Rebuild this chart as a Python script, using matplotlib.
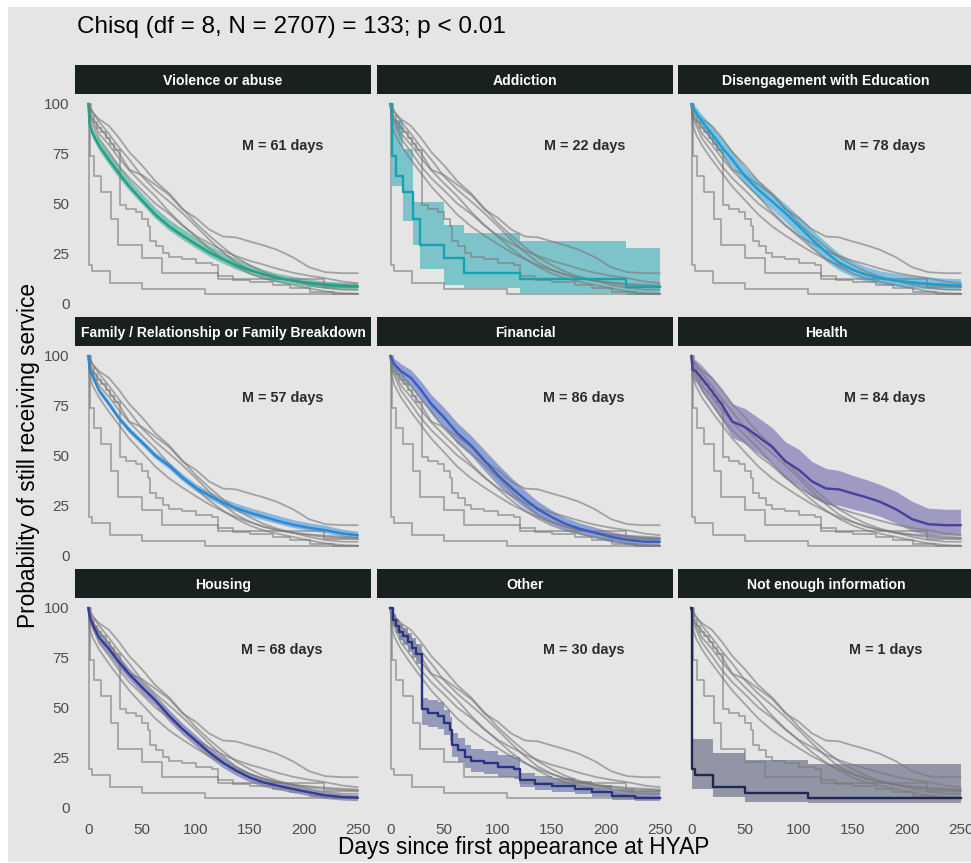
import matplotlib
matplotlib.use("Agg")
import matplotlib.pyplot as plt
from matplotlib.patches import Rectangle

plt.rcParams['font.family'] = ['Liberation Sans', 'DejaVu Sans']

# ---------------- data ----------------
title_text = "Chisq (df = 8, N = 2707) = 133; p < 0.01"
x_label = "Days since first appearance at HYAP"
y_label = "Probability of still receiving service"

groups = ["Violence or abuse", "Addiction", "Disengagement with Education",
          "Family / Relationship or Family Breakdown", "Financial", "Health",
          "Housing", "Other", "Not enough information"]
medians = [61, 22, 78, 57, 86, 84, 68, 30, 1]
x_ticks = [0, 50, 100, 150, 200, 250]
y_ticks = [0, 25, 50, 75, 100]

# large groups: estimates read on a common day grid
smooth_days = [0, 1, 4, 10, 19, 28, 38, 50, 62, 75, 87, 100, 112, 125, 137,
               150, 162, 175, 190, 205, 220, 236, 250]

violence_surv = [100, 90, 85, 79, 72, 65.5, 58.5, 51.5, 44.5, 38.5, 34, 29.5, 25.5,
                 22, 19, 16.5, 14.5, 12.7, 11.2, 10, 9.1, 8.6, 8.3]
violence_hi = [100, 92, 87.5, 82, 75.5, 69, 62, 55, 48, 42, 37.5, 33, 29, 25.5, 22.5,
               19.5, 17, 15, 13.5, 12, 11, 10.5, 10.3]
violence_lo = [100, 88, 82.5, 76.5, 69.5, 63, 56.5, 49.5, 42.5, 36.5, 32, 27.5, 23.5,
               20, 17, 14.5, 12.5, 10.8, 9.5, 8.3, 7.4, 6.9, 6.5]

disengage_surv = [100, 98.5, 96, 91, 85, 78.5, 72, 63.5, 57, 51, 45.3, 38.5, 32, 25.5,
                  20.3, 16.7, 14.2, 12.5, 11.2, 10.4, 9.7, 9.2, 8.8]
disengage_hi = [100, 100, 98.5, 94.5, 89, 83, 76.5, 68, 61.5, 55.5, 50, 43.5, 37, 30.5,
                25, 21, 18.3, 16.3, 14.8, 13.8, 13, 12.5, 12.2]
disengage_lo = [100, 97, 93.5, 87.5, 81, 74.5, 68, 59.5, 53, 47, 41, 34, 27.5, 21, 16.5,
                13.2, 11, 9.6, 8.5, 7.8, 7.2, 6.8, 6.5]

family_surv = [100, 94, 89.5, 82.5, 76, 69, 62.7, 56.5, 50, 44.8, 39, 33.7, 30, 26.3,
               23.6, 21.2, 19.4, 17.3, 15.2, 13.7, 12.5, 10.8, 10]
family_hi = [100, 95.5, 91, 84, 77.5, 70.5, 64.2, 58, 51.7, 46.5, 41, 35.7, 32, 28.5,
             26, 23.8, 22, 20, 17.8, 16.2, 14.9, 13, 12]
family_lo = [100, 92.5, 88, 81, 74.5, 67.5, 61.2, 55, 48.5, 43.2, 37.3, 32, 28.3, 24.6,
             22, 19.6, 17.8, 15.8, 13.8, 12.3, 11.2, 9.5, 8.7]

financial_surv = [100, 98.5, 95.5, 92.3, 89, 83.2, 75.8, 69, 61.3, 55, 47.7, 40, 34, 28,
                  23, 19, 15.8, 13.3, 11.2, 9.1, 7.6, 6.7, 6.7]
financial_hi = [100, 100, 98.5, 96, 93, 87.5, 80.5, 74, 66.5, 60, 53, 45.5, 39, 32.5,
                27, 22.5, 19, 16.3, 14, 11.8, 10.2, 9.2, 9]
financial_lo = [100, 96.5, 92.5, 88.5, 84.5, 78.5, 71, 64, 56, 50, 42.5, 35, 29, 23.5,
                19, 15.5, 12.8, 10.5, 8.6, 6.6, 5.2, 4.4, 4.3]

health_surv = [100, 93, 92.5, 88.5, 82.3, 75.7, 67, 64.2, 59.5, 54.3, 47.2, 42.7, 37,
               33.4, 33, 30.9, 29.1, 26.8, 23, 18, 15.5, 15, 15]
health_hi = [100, 98, 98, 95, 89.5, 83, 76, 73.5, 69, 64, 57, 53, 47, 43.5, 42.5, 40,
             38, 35.5, 32, 27, 23.5, 23, 23]
health_lo = [100, 88, 87, 82, 75, 68, 59, 56, 51, 46, 39, 34.5, 29, 25.5, 25, 23, 21.5,
             19.5, 16, 12, 10, 10, 10]

housing_surv = [100, 96, 91.5, 85, 79.5, 73, 66.7, 60, 53.7, 45.8, 39.4, 33.2, 27.5,
                22.3, 18.3, 14.8, 12.5, 10.8, 9.1, 7.4, 5.9, 5, 4.7]
housing_hi = [100, 98, 94, 88, 82.5, 76, 69.5, 63, 56.5, 48.8, 42.3, 36, 30.2, 25,
              20.8, 17.2, 14.8, 12.9, 11.1, 9.2, 7.6, 6.6, 6.3]
housing_lo = [100, 94, 89, 82, 76.5, 70, 64, 57, 51, 43, 36.6, 30.5, 25, 19.8, 16,
              12.6, 10.4, 8.8, 7.2, 5.7, 4.3, 3.5, 3.2]

# small groups: step change points
addiction_days = [0, 1, 5, 12, 21, 27, 50, 68, 120, 219, 250]
addiction_surv = [100, 74, 64, 56, 42, 29, 22.5, 15, 12, 8.3, 8.3]
addiction_hi = [100, 92, 92, 77.5, 51, 51, 39, 35, 31, 27.5, 27.5]
addiction_lo = [100, 59, 59, 41, 29, 17, 9, 7.5, 5, 4, 4]

other_days = [0, 2, 5, 8, 12, 16, 20, 24, 29, 35, 44, 50, 55, 57, 63, 69, 75, 87, 100,
              115, 120, 134, 150, 171, 187, 206, 227, 250]
other_surv = [100, 94, 91, 88, 86, 83, 80, 77, 49, 47, 45.5, 42, 38.5, 31, 28.5, 25,
              23, 22, 20, 19, 13.4, 11.7, 10.4, 9.2, 7.5, 5.4, 4.5, 4.5]
other_hi = [100, 97, 94.5, 92, 90, 87.5, 85, 82, 55, 54, 53, 48.5, 45, 37, 34.5, 31,
            29, 28, 26, 25, 17, 15.5, 14.5, 13, 11, 9, 8, 8]
other_lo = [100, 91, 87.5, 84, 81.5, 78, 75, 72, 41, 40, 39, 36, 33, 25, 22.5, 19.5,
            17.5, 16.5, 15, 14, 10, 8.5, 7.5, 6.5, 5, 3.5, 3, 3]

nei_days = [0, 0.5, 3, 20, 50, 108, 250]
nei_surv = [100, 19, 16, 10.3, 7.3, 4.5, 4.5]
nei_hi = [100, 34, 34, 27, 23.5, 21.7, 21.7]
nei_lo = [100, 9, 9, 5, 2.7, 2, 2]

# ---------------- assemble ----------------
series = [
    (smooth_days, violence_surv, violence_lo, violence_hi),
    (addiction_days, addiction_surv, addiction_lo, addiction_hi),
    (smooth_days, disengage_surv, disengage_lo, disengage_hi),
    (smooth_days, family_surv, family_lo, family_hi),
    (smooth_days, financial_surv, financial_lo, financial_hi),
    (smooth_days, health_surv, health_lo, health_hi),
    (smooth_days, housing_surv, housing_lo, housing_hi),
    (other_days, other_surv, other_lo, other_hi),
    (nei_days, nei_surv, nei_lo, nei_hi),
]
stepped = [False, True, False, False, False, False, False, True, True]
colors = ['#1fa387', '#16a3b1', '#1a9fd8', '#2a8ad8', '#3b5cc0', '#4a3f9c',
          '#343c95', '#2a3380', '#1e2850']
band_alpha = [0.5, 0.5, 0.5, 0.5, 0.5, 0.45, 0.45, 0.42, 0.42]

W, H = 971, 863
BG = '#e5e5e5'
fig = plt.figure(figsize=(W / 100, H / 100), dpi=100)
fig.patch.set_facecolor('white')
fig.patches.append(Rectangle((7.5 / W, 1 - 862 / H), (W - 7.5) / W, (862 - 7.5) / H,
                             transform=fig.transFigure, facecolor=BG,
                             edgecolor='none', zorder=-10))

col_left = [75, 377, 678]
panel_top = [94, 346, 598]
strip_top = [65, 317, 569]
pw, ph, sh = 296, 219, 29

for i, name in enumerate(groups):
    r, c = divmod(i, 3)
    ax = fig.add_axes([col_left[c] / W, 1 - (panel_top[r] + ph) / H, pw / W, ph / H])
    ax.set_facecolor('none')
    days, surv, lo, hi = series[i]
    ds = 'steps-post' if stepped[i] else 'default'
    ax.fill_between(days, lo, hi, step='post' if stepped[i] else None,
                    color=colors[i], alpha=band_alpha[i], linewidth=0, zorder=1)
    for j in range(9):
        dj, sj, _, _ = series[j]
        ax.plot(dj, sj, color='#7a7a7a', alpha=0.62, linewidth=1.3,
                drawstyle='steps-post' if stepped[j] else 'default', zorder=2)
    ax.plot(days, surv, color=colors[i], linewidth=1.7, drawstyle=ds, zorder=3)
    ax.text(180, 79, f"M = {medians[i]} days", ha='center', va='center',
            fontsize=10.4, fontweight='bold', color='#2b2b2b')
    ax.set_xlim(-12.5, 262.5)
    ax.set_ylim(-5, 105)
    ax.set_xticks(x_ticks)
    ax.set_yticks(y_ticks)
    ax.tick_params(length=0, labelsize=11, labelcolor='#4d4d4d', pad=4)
    if r != 2:
        ax.set_xticklabels([])
    if c != 0:
        ax.set_yticklabels([])
    for s in ax.spines.values():
        s.set_visible(False)

    sax = fig.add_axes([col_left[c] / W, 1 - (strip_top[r] + sh) / H, pw / W, sh / H])
    sax.set_facecolor('#192120')
    sax.set_xticks([])
    sax.set_yticks([])
    for s in sax.spines.values():
        s.set_visible(False)
    sax.text(0.5, 0.44, name, ha='center', va='center', color='white',
             fontsize=10.1, fontweight='bold', transform=sax.transAxes)

fig.text(77 / W, 1 - 27 / H, title_text, ha='left', va='center', fontsize=17.5)
fig.text(524 / W, 1 - 847 / H, x_label, ha='center', va='center', fontsize=16.3)
fig.text(29 / W, 1 - 455 / H, y_label, ha='center', va='center', fontsize=16.3,
         rotation=90)

fig.savefig('out.png', dpi=100, facecolor='white')
